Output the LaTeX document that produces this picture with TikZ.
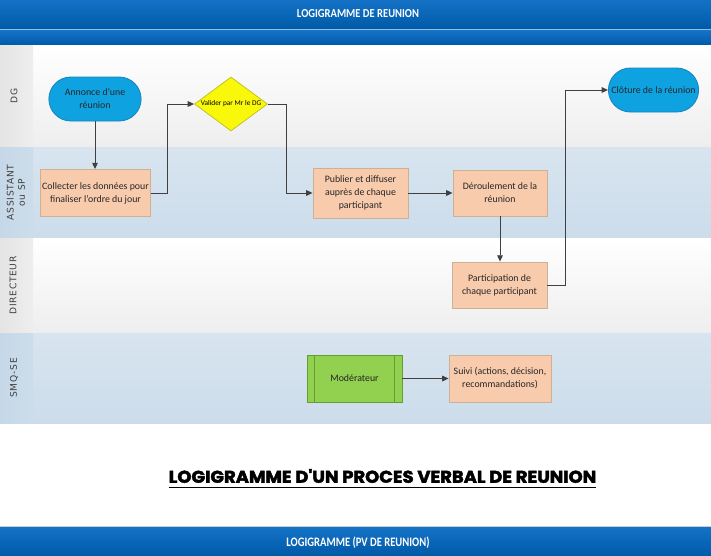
\documentclass[tikz,border=0pt]{standalone}
\usepackage{fontspec}
\setmainfont{Carlito}
\newfontfamily\lanefont[LetterSpace=8]{DejaVu Sans}
\newfontfamily\titlefont[BoldFeatures={FakeBold=2.5}]{Poppins}
\usepackage{tikz}
\usetikzlibrary{arrows.meta, positioning, shapes.geometric, shapes.misc, calc}
\usepackage{xcolor}
\definecolor{BT}{RGB}{20,114,198}
\definecolor{BB}{RGB}{0,90,168}
\definecolor{BS}{RGB}{150,190,226}
\definecolor{CY}{RGB}{14,162,224}
\definecolor{CYd}{RGB}{22,132,192}
\definecolor{PE}{RGB}{248,203,173}
\definecolor{PEd}{RGB}{204,176,152}
\definecolor{YE}{RGB}{250,248,10}
\definecolor{YEd}{RGB}{196,196,40}
\definecolor{GR}{RGB}{146,208,80}
\definecolor{GRd}{RGB}{98,158,48}
\definecolor{LB}{RGB}{216,229,240}
\definecolor{LBb}{RGB}{204,220,234}
\definecolor{LBh}{RGB}{198,216,232}
\definecolor{LGr}{RGB}{238,238,238}
\definecolor{LGh}{RGB}{228,228,228}
\definecolor{AR}{RGB}{64,64,64}

\begin{document}
\begin{tikzpicture}[
  x=0.025cm, y=-0.025cm,
  txt/.style={font=\fontsize{7}{9.2}\selectfont, align=center, text=black!85},
  proc/.style={txt, draw=PEd, fill=PE, line width=0.6pt, inner sep=1pt},
  term/.style={txt, rounded rectangle, draw=CYd, fill=CY, line width=0.6pt,
               minimum height=1.1cm, inner sep=1pt},
  decis/.style={diamond, draw=YEd, fill=YE, line width=0.6pt, inner sep=0pt,
                aspect=1.35, minimum width=1.825cm, minimum height=1.35cm,
                font=\fontsize{5.2}{6}\selectfont},
  subp/.style={txt, draw=GRd, fill=GR, line width=0.6pt},
  lane/.style={font=\lanefont\fontsize{6.5}{8}\selectfont, rotate=90, align=center, text=black!75},
  bar/.style={text=white, inner sep=0pt},
  arr/.style={draw=AR, line width=0.7pt, -{Triangle[length=4.5pt,width=4pt]}}
]
\useasboundingbox (0,0) rectangle (711,555);

% Header bars
\shade[top color=BT, bottom color=BB] (0,0) rectangle (711,28.5);
\draw[BS, line width=0.9pt] (0,29.6) -- (711,29.6);
\shade[top color=BT, bottom color=BB] (0,30.6) rectangle (711,45);
\node[bar] (bartop) at (358,14) {\resizebox{3.05cm}{0.2cm}{\bfseries LOGIGRAMME DE REUNION}};

% Swim lanes
\foreach \i/\ya/\yb/\ctop/\cbot/\chdr/\lx/\lab in {
  1/45/147/white/LGr/LGh/14/{DG},
  2/147/238/LB/LBb/LBh/16/{ASSISTANT\\ou SP},
  3/238/333/white/LGr/LGh/13/{DIRECTEUR},
  4/333/423/LB/LBb/LBh/14/{SMQ-SE}}
{
  \shade[top color=\ctop, bottom color=\cbot] (33,\ya) rectangle (711,\yb);
  \shade[left color=\chdr, right color=\cbot] (0,\ya) rectangle (33,\yb);
  \node[lane] (lane\i) at (\lx,{(\ya+\yb)/2}) {\lab};
}

% Steps
\node[term, minimum width=2.375cm] (annonce) at (95,99) {Annonce d'une\\réunion};
\node[decis] (valider) at (231,104) {Valider par Mr le DG};
\node[proc, minimum width=2.575cm, minimum height=1.175cm] (collect) at (95.5,193)
  {Collecter les données pour\\finaliser l'ordre du jour};
\node[proc, minimum width=2.375cm, minimum height=1.25cm] (publier) at (360.5,193)
  {Publier et diffuser\\auprès de chaque\\participant};
\node[proc, minimum width=2.35cm, minimum height=1.15cm] (deroul) at (500,193)
  {Déroulement de la\\réunion};
\node[term, minimum width=2.325cm] (cloture) at (653.5,90) {Clôture de la réunion};
\node[proc, minimum width=2.375cm, minimum height=1.15cm] (particip) at (499.5,285)
  {Participation de\\chaque participant};
\node[subp, minimum width=2.375cm, minimum height=1.175cm] (moder) at (354.5,378.5) {Modérateur};
\draw[GRd, line width=0.5pt] ([xshift=0.2cm]moder.north west) -- ([xshift=0.2cm]moder.south west)
  ([xshift=-0.2cm]moder.north east) -- ([xshift=-0.2cm]moder.south east);
\node[proc, minimum width=2.55cm, minimum height=1.175cm] (suivi) at (500,378.5)
  {Suivi (actions, décision,\\recommandations)};

% Flow
\draw[arr] (annonce.south) -- (annonce.south |- collect.north);
\draw[arr] (collect.east) -- ++(17,0) |- (valider.west);
\draw[arr] (valider.east) -- ++(19,0) |- (publier.west);
\draw[arr] (publier.east) -- (deroul.west);
\draw[arr] (deroul.south) -- (deroul.south |- particip.north);
\draw[arr] (particip.east) -- ++(18,0) |- (cloture.west);
\draw[arr] (moder.east) -- (suivi.west);

% Title
\node[inner sep=0pt] (title) at (382.5,476)
  {\resizebox{10.68cm}{0.34cm}{\titlefont\bfseries LOGIGRAMME D'UN PROCES VERBAL DE REUNION}};
\draw[line width=0.8pt] ([yshift=-0.1cm]title.south west) -- ([yshift=-0.1cm]title.south east);

% Footer bar
\draw[black!20, line width=0.8pt] (0,527) -- (711,527);
\shade[top color=BT, bottom color=BB] (0,527.5) rectangle (711,555);
\node[bar] (barbot) at (358,543) {\resizebox{3.58cm}{0.24cm}{\bfseries LOGIGRAMME (PV DE REUNION)}};
\end{tikzpicture}
\end{document}
